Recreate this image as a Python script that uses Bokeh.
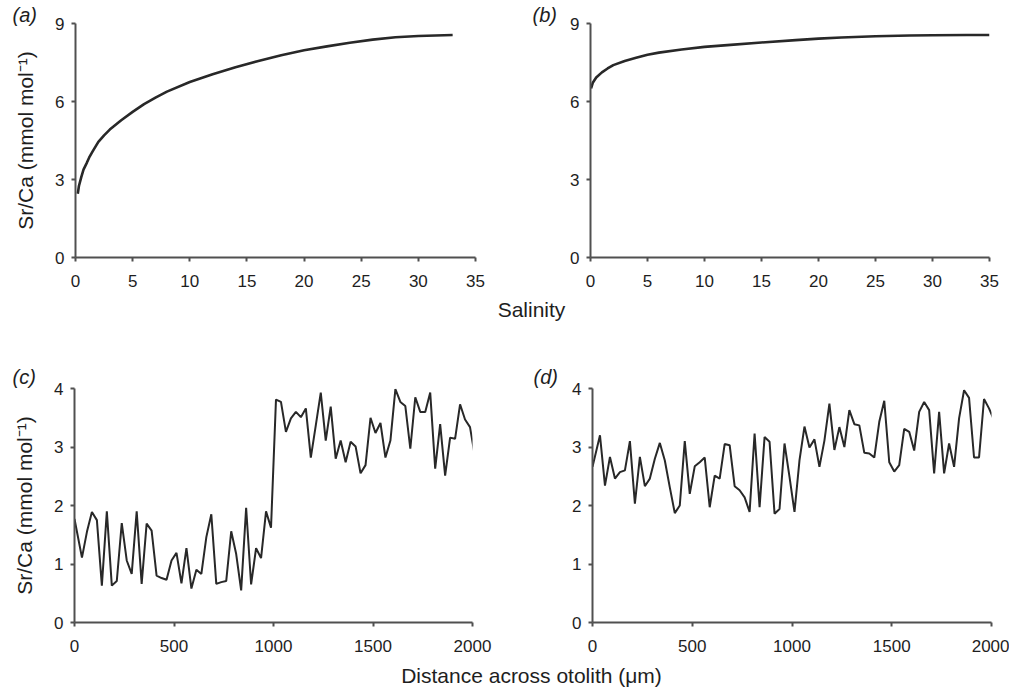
from bokeh.plotting import figure
from bokeh.layouts import column, row
from bokeh.models import Range1d, FixedTicker, Label, Title
from bokeh.embed import file_html
from bokeh.resources import INLINE

# ---------------- data ----------------
salinity_a = [0.2, 0.3, 0.5, 0.7, 1, 1.2, 1.5, 2, 2.5, 3, 4, 5, 6, 7, 8, 10, 12, 14, 16, 18,
              20, 22, 24, 26, 28, 30, 33]
srca_a = [2.45, 2.75, 3.08, 3.38, 3.65, 3.85, 4.08, 4.45, 4.70, 4.92, 5.28, 5.60, 5.90, 6.15,
          6.38, 6.75, 7.05, 7.32, 7.56, 7.78, 7.97, 8.12, 8.26, 8.38, 8.47, 8.52, 8.56]

salinity_b = [0.05, 0.2, 0.5, 1, 1.5, 2, 3, 4, 5, 6, 8, 10, 12, 15, 18, 20, 22, 25, 28, 30, 33, 35]
srca_b = [6.50, 6.72, 6.92, 7.12, 7.27, 7.40, 7.56, 7.68, 7.80, 7.88, 8.00, 8.10, 8.17, 8.27,
          8.36, 8.42, 8.46, 8.51, 8.54, 8.55, 8.56, 8.56]

distance = [0] + [12.5 + 25 * k for k in range(1, 81)]

srca_c = [1.77, 1.11, 1.55, 1.89, 1.75, 0.63, 1.90, 0.63, 0.71, 1.70,
          1.06, 0.83, 1.90, 0.66, 1.69, 1.57, 0.80, 0.76, 0.73, 1.06,
          1.19, 0.67, 1.27, 0.58, 0.90, 0.83, 1.46, 1.85, 0.66, 0.69,
          0.71, 1.56, 1.17, 0.55, 1.96, 0.65, 1.27, 1.10, 1.90, 1.62,
          3.81, 3.77, 3.26, 3.49, 3.60, 3.51, 3.66, 2.82, 3.37, 3.93,
          3.11, 3.69, 2.80, 3.11, 2.74, 3.09, 3.01, 2.55, 2.69, 3.50,
          3.24, 3.41, 2.82, 3.11, 3.99, 3.77, 3.70, 2.97, 3.85, 3.60,
          3.60, 3.93, 2.63, 3.39, 2.51, 3.16, 3.14, 3.73, 3.47, 3.34,
          2.83]

srca_d = [2.66, 3.20, 2.34, 2.83, 2.46, 2.57, 2.60, 3.10, 2.03, 2.83,
          2.33, 2.46, 2.80, 3.07, 2.77, 2.31, 1.87, 2.00, 3.10, 2.20,
          2.67, 2.74, 2.82, 1.97, 2.51, 2.46, 3.05, 3.03, 2.33, 2.26,
          2.14, 1.89, 3.23, 1.97, 3.17, 3.09, 1.86, 1.94, 3.06, 2.49,
          1.89, 2.77, 3.35, 2.99, 3.13, 2.66, 3.11, 3.74, 2.95, 3.34,
          3.00, 3.63, 3.39, 3.37, 2.90, 2.89, 2.82, 3.43, 3.79, 2.74,
          2.58, 2.69, 3.31, 3.26, 2.94, 3.60, 3.77, 3.63, 2.55, 3.60,
          2.55, 3.06, 2.66, 3.49, 3.97, 3.84, 2.82, 2.82, 3.82, 3.66,
          3.46]

sal_ticks = [0, 5, 10, 15, 20, 25, 30, 35]
sal_y_ticks = [0, 3, 6, 9]
dist_ticks = [0, 500, 1000, 1500, 2000]
dist_y_ticks = [0, 1, 2, 3, 4]

YLABEL = "Sr/Ca (mmol mol\u207b\u00b9)"

# ---------------- style ----------------
FONT = "Liberation Sans"
LINE = "#282828"
AXIS = "#505050"
TEXT = "#1e1e1e"


def panel(w, h, bl, br, bt, bb, xr, yr, xt, yt, letter, loff, lstand, ylabel=None):
    p = figure(width=w, height=h, output_backend="svg", toolbar_location=None,
               x_range=Range1d(*xr), y_range=Range1d(*yr),
               min_border_left=bl, min_border_right=br,
               min_border_top=bt, min_border_bottom=bb)
    p.xgrid.visible = False
    p.ygrid.visible = False
    p.outline_line_color = None
    for ax in (p.xaxis[0], p.yaxis[0]):
        ax.axis_line_color = AXIS
        ax.axis_line_width = 2
        ax.major_tick_line_color = AXIS
        ax.major_tick_line_width = 2
        ax.major_tick_in = 0
        ax.major_tick_out = 4
        ax.minor_tick_line_color = None
        ax.major_label_text_font = FONT
        ax.major_label_text_font_size = "17px"
        ax.major_label_text_color = TEXT
    p.xaxis.major_label_standoff = 13
    p.yaxis.major_label_standoff = 7
    p.xaxis.ticker = FixedTicker(ticks=xt)
    p.yaxis.ticker = FixedTicker(ticks=yt)
    if ylabel:
        p.yaxis.axis_label = ylabel
        p.yaxis.axis_label_text_font = FONT
        p.yaxis.axis_label_text_font_size = "21px"
        p.yaxis.axis_label_text_font_style = "normal"
        p.yaxis.axis_label_text_color = TEXT
        p.yaxis.axis_label_standoff = 15
    p.add_layout(Title(text=letter, align="left", offset=loff, standoff=lstand,
                       text_font=FONT, text_font_size="20px", text_font_style="italic",
                       text_color=TEXT), "above")
    return p


def strip(w, h, txt, x, y):
    p = figure(width=w, height=h, output_backend="svg", toolbar_location=None,
               x_range=Range1d(0, w), y_range=Range1d(0, h),
               x_axis_location=None, y_axis_location=None, min_border=0)
    p.xgrid.visible = False
    p.ygrid.visible = False
    p.outline_line_color = None
    p.add_layout(Label(x=x, y=y, text=txt, text_align="center", text_baseline="middle",
                       text_font=FONT, text_font_size="21px", text_color=TEXT))
    return p


pa = panel(505, 297, 75, 30, 23, 40, (0, 35), (0, 9), sal_ticks, sal_y_ticks, "(a)", -63, -5, YLABEL)
pa.line(salinity_a, srca_a, line_color=LINE, line_width=2.6)

pb = panel(504, 297, 85, 20, 23, 40, (0, 35), (0, 9), sal_ticks, sal_y_ticks, "(b)", -58, -5)
pb.line(salinity_b, srca_b, line_color=LINE, line_width=2.6)

pc = panel(505, 340, 74, 33, 66, 40, (0, 2000), (0, 4), dist_ticks, dist_y_ticks, "(c)", -62, 2, YLABEL)
pc.line(distance, srca_c, line_color=LINE, line_width=2)

pd = panel(504, 340, 87, 18, 66, 40, (0, 2000), (0, 4), dist_ticks, dist_y_ticks, "(d)", -59, 2)
pd.line(distance, srca_d, line_color=LINE, line_width=2)

s1 = strip(1009, 25, "Salinity", 531, 13)
s2 = strip(1009, 25, "Distance across otolith (\u03bcm)", 531, 12)

layout = column(row(pa, pb), s1, row(pc, pd), s2, spacing=0)

open("out.html", "w").write(file_html(layout, INLINE))
